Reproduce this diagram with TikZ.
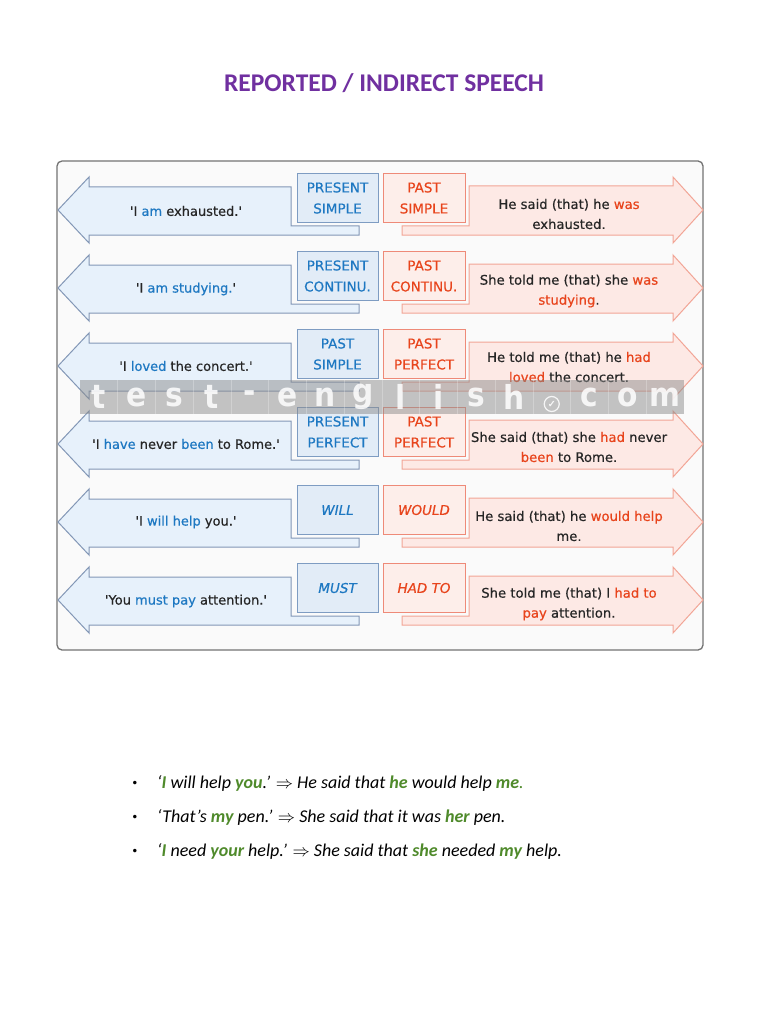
\documentclass[tikz,border=0pt]{standalone}
\usepackage{fontspec}
\setmainfont{DejaVu Sans}
\newfontfamily\titlefont{Carlito}
\newfontfamily\cfont{DejaVu Sans}[FakeBold=0.5]
\newfontfamily\wmfont{DejaVu Sans Condensed}
\definecolor{bluefill}{HTML}{E7F1FB}
\definecolor{blueline}{HTML}{8397B6}
\definecolor{boxblue}{HTML}{E2ECF7}
\definecolor{boxblueline}{HTML}{7E9CC2}
\definecolor{bluetxt}{HTML}{1E78C2}
\definecolor{redfill}{HTML}{FDE9E5}
\definecolor{redline}{HTML}{F2A596}
\definecolor{boxred}{HTML}{FDEEEA}
\definecolor{boxredline}{HTML}{EE8A78}
\definecolor{redtxt}{HTML}{E8441C}
\definecolor{txt}{HTML}{262626}
\definecolor{purp}{HTML}{7030A0}
\definecolor{grn}{HTML}{4F8A2B}
\newcommand\bw[1]{\textcolor{bluetxt}{#1}}
\newcommand\rw[1]{\textcolor{redtxt}{#1}}
\newcommand\gw[1]{\textcolor{grn}{\bfseries #1}}
\begin{document}
\begin{tikzpicture}[x=1pt,y=-1pt,
  bluearrow/.style={fill=bluefill,draw=blueline,line width=1pt,line join=miter},
  redarrow/.style={fill=redfill,draw=redline,line width=1pt,line join=miter},
  bluebox/.style={fill=boxblue,draw=boxblueline,line width=1pt,minimum width=81pt,minimum height=49pt,inner sep=0pt,align=center,text=bluetxt,font=\cfont\fontsize{13.5}{21}\selectfont},
  redbox/.style={fill=boxred,draw=boxredline,line width=1pt,minimum width=82pt,minimum height=49pt,inner sep=0pt,align=center,text=redtxt,font=\cfont\fontsize{13.5}{21}\selectfont},
  bluetext/.style={text=txt,font=\cfont\fontsize{13}{19}\selectfont,inner sep=0pt},
  redtext/.style={text=txt,font=\cfont\fontsize{13.2}{20}\selectfont,inner sep=0pt,align=center},
  bullettext/.style={anchor=west,inner sep=0pt,font=\titlefont\itshape\fontsize{18}{20}\selectfont},
  wm/.style={text=white,font=\wmfont\bfseries\fontsize{33}{33}\selectfont,inner sep=0pt,opacity=0.85}
]
\useasboundingbox (0,0) rectangle (768,1024);
\fill[white] (0,0) rectangle (768,1024);
% title
\node[text=purp,font=\titlefont\bfseries\fontsize{25.5}{28}\selectfont] (title) at (384,83) {REPORTED / INDIRECT SPEECH};
% frame
\draw[draw=gray!90!black,line width=1.3pt,fill=black!2,rounded corners=5pt] (57,161) rectangle (703,650);
% arrows
\foreach \c in {210,288,366,444,522,600}{
  \draw[bluearrow] (58,\c) -- (89,{\c-33}) -- (89,{\c-23}) -- (291,{\c-23}) -- (291,{\c+16}) -- (359,{\c+16}) -- (359,{\c+25}) -- (89,{\c+25}) -- (89,{\c+33}) -- cycle;
  \draw[redarrow] (703,\c) -- (673,{\c-33}) -- (673,{\c-24}) -- (469,{\c-24}) -- (469,{\c+16}) -- (402,{\c+16}) -- (402,{\c+25}) -- (673,{\c+25}) -- (673,{\c+33}) -- cycle;
}
% row 1
\node[bluebox] (bb1) at (337.5,198) {PRESENT\\SIMPLE};
\node[redbox] (rb1) at (424,198) {PAST\\SIMPLE};
\node[bluetext] (b1) at (186,211) {'I \bw{am} exhausted.'};
\node[redtext] (r1) at (569,214) {He said (that) he \rw{was}\\exhausted.};
% row 2
\node[bluebox] (bb2) at (337.5,276) {PRESENT\\CONTINU.};
\node[redbox] (rb2) at (424,276) {PAST\\CONTINU.};
\node[bluetext] (b2) at (186,289) {'I \bw{am studying.}'};
\node[redtext] (r2) at (569,291) {She told me (that) she \rw{was}\\\rw{studying}.};
% row 3
\node[bluebox] (bb3) at (337.5,354) {PAST\\SIMPLE};
\node[redbox] (rb3) at (424,354) {PAST\\PERFECT};
\node[bluetext] (b3) at (186,366) {'I \bw{loved} the concert.'};
\node[redtext] (r3) at (569,367) {He told me (that) he \rw{had}\\\rw{loved} the concert.};
% row 4
\node[bluebox] (bb4) at (337.5,432) {PRESENT\\PERFECT};
\node[redbox] (rb4) at (424,432) {PAST\\PERFECT};
\node[bluetext] (b4) at (186,444) {'I \bw{have} never \bw{been} to Rome.'};
\node[redtext] (r4) at (569,447) {She said (that) she \rw{had} never\\\rw{been} to Rome.};
% row 5
\node[bluebox,font=\cfont\itshape\fontsize{13.5}{21}\selectfont] (bb5) at (337.5,510) {WILL};
\node[redbox,font=\cfont\itshape\fontsize{13.5}{21}\selectfont] (rb5) at (424,510) {WOULD};
\node[bluetext] (b5) at (186,522) {'I \bw{will help} you.'};
\node[redtext] (r5) at (569,526) {He said (that) he \rw{would help}\\me.};
% row 6
\node[bluebox,font=\cfont\itshape\fontsize{13.5}{21}\selectfont] (bb6) at (337.5,588) {MUST};
\node[redbox,font=\cfont\itshape\fontsize{13.5}{21}\selectfont] (rb6) at (424,588) {HAD TO};
\node[bluetext] (b6) at (186,601) {'You \bw{must pay} attention.'};
\node[redtext] (r6) at (569,604) {She told me (that) I \rw{had to}\\\rw{pay} attention.};
% watermark
\fill[black!45,opacity=0.5] (80,380) rectangle (684,414);
\foreach \i in {1,...,15}{
  \draw[white,opacity=0.25,line width=0.6pt] ({80+\i*37.75},380) -- ({80+\i*37.75},414);
}
\foreach \ch [count=\i] in {t,e,s,t,-,e,n,g,l,i,s,h,{},c,o,m}{
  \node[wm] (wm\i) at ({61+\i*37.75},397) {\ch};
}
\node[draw=white,circle,line width=1.2pt,minimum size=15pt,inner sep=0pt,text=white,opacity=0.85,font=\cfont\fontsize{10}{10}\selectfont] (wmcheck) at ({61+13*37.75},404) {✓};
% bullets
\node[font=\fontsize{12}{12}\selectfont] (d1) at (135,784) {\textbullet};
\node[font=\fontsize{12}{12}\selectfont] (d2) at (135,818) {\textbullet};
\node[font=\fontsize{12}{12}\selectfont] (d3) at (135,852) {\textbullet};
\node[bullettext] (l1) at (157,783) {‘\gw{I} will help \gw{you}.’ $\Rightarrow$ He said that \gw{he} would help \gw{me}\textcolor{grn}{.}};
\node[bullettext] (l2) at (157,817) {‘That’s \gw{my} pen.’ $\Rightarrow$ She said that it was \gw{her} pen.};
\node[bullettext] (l3) at (157,851) {‘\gw{I} need \gw{your} help.’ $\Rightarrow$ She said that \gw{she} needed \gw{my} help.};
\end{tikzpicture}
\end{document}
